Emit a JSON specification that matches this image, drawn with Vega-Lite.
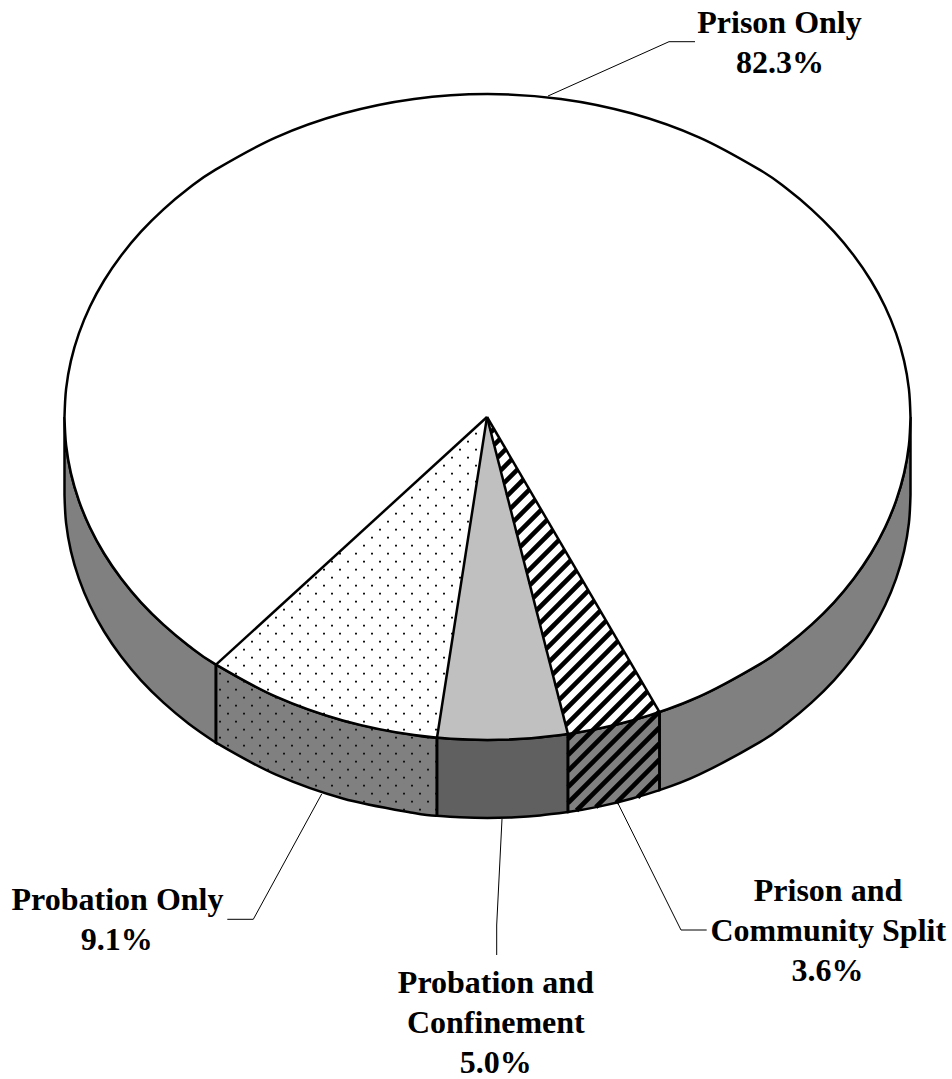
{"$schema":"https://vega.github.io/schema/vega-lite/v6.json","width":952,"height":1079,"padding":0,"autosize":"none","background":"white","view":{"stroke":null},
"datasets":{
"top":[{"x":64.5,"y":417,"y2":417},{"x":66.1,"y":388.8,"y2":445.2},{"x":70.9,"y":360.9,"y2":473.1},{"x":78.9,"y":333.4,"y2":500.6},{"x":90,"y":306.5,"y2":527.5},{"x":104.1,"y":280.5,"y2":553.5},{"x":121.2,"y":255.5,"y2":578.5},{"x":141,"y":231.7,"y2":602.3},{"x":163.5,"y":209.4,"y2":624.6},{"x":188.4,"y":188.6,"y2":645.4},{"x":215.6,"y":169.6,"y2":664.4},{"x":276,"y":137.3,"y2":696.7},{"x":342.8,"y":113.5,"y2":720.5},{"x":414.1,"y":98.9,"y2":735.1},{"x":487.5,"y":94,"y2":740},{"x":560.9,"y":98.9,"y2":735.1},{"x":632.2,"y":113.5,"y2":720.5},{"x":699,"y":137.3,"y2":696.7},{"x":759.4,"y":169.6,"y2":664.4},{"x":786.6,"y":188.6,"y2":645.4},{"x":811.5,"y":209.4,"y2":624.6},{"x":834,"y":231.7,"y2":602.3},{"x":853.8,"y":255.5,"y2":578.5},{"x":870.9,"y":280.5,"y2":553.5},{"x":885,"y":306.5,"y2":527.5},{"x":896.1,"y":333.4,"y2":500.6},{"x":904.1,"y":360.9,"y2":473.1},{"x":908.9,"y":388.8,"y2":445.2},{"x":910.5,"y":417,"y2":417}],
"side":[{"part":"Prison Only right","x":659.5,"y":712.1,"y2":790.1},{"part":"Prison Only right","x":699,"y":696.7,"y2":774.7},{"part":"Prison Only right","x":759.4,"y":664.4,"y2":742.4},{"part":"Prison Only right","x":786.6,"y":645.4,"y2":723.4},{"part":"Prison Only right","x":811.5,"y":624.6,"y2":702.6},{"part":"Prison Only right","x":834,"y":602.3,"y2":680.3},{"part":"Prison Only right","x":853.8,"y":578.5,"y2":656.5},{"part":"Prison Only right","x":870.9,"y":553.5,"y2":631.5},{"part":"Prison Only right","x":885,"y":527.5,"y2":605.5},{"part":"Prison Only right","x":896.1,"y":500.6,"y2":578.6},{"part":"Prison Only right","x":904.1,"y":473.1,"y2":551.1},{"part":"Prison Only right","x":908.9,"y":445.2,"y2":523.2},{"part":"Prison Only right","x":910.5,"y":417,"y2":495},
{"part":"Prison Only left","x":64.5,"y":417,"y2":495},{"part":"Prison Only left","x":66.1,"y":445.2,"y2":523.2},{"part":"Prison Only left","x":70.9,"y":473.1,"y2":551.1},{"part":"Prison Only left","x":78.9,"y":500.6,"y2":578.6},{"part":"Prison Only left","x":90,"y":527.5,"y2":605.5},{"part":"Prison Only left","x":104.1,"y":553.5,"y2":631.5},{"part":"Prison Only left","x":121.2,"y":578.5,"y2":656.5},{"part":"Prison Only left","x":141,"y":602.3,"y2":680.3},{"part":"Prison Only left","x":163.5,"y":624.6,"y2":702.6},{"part":"Prison Only left","x":188.4,"y":645.4,"y2":723.4},{"part":"Prison Only left","x":216,"y":664.7,"y2":742.7},
{"part":"Probation Only","x":216,"y":664.7,"y2":742.7},{"part":"Probation Only","x":276,"y":696.7,"y2":774.7},{"part":"Probation Only","x":342.8,"y":720.5,"y2":798.5},{"part":"Probation Only","x":414.1,"y":735.1,"y2":813.1},{"part":"Probation Only","x":437,"y":737.7,"y2":815.7},
{"part":"Probation and Confinement","x":437,"y":737.7,"y2":815.7},{"part":"Probation and Confinement","x":460,"y":739.3,"y2":817.3},{"part":"Probation and Confinement","x":487.5,"y":740,"y2":818},{"part":"Probation and Confinement","x":515,"y":739.3,"y2":817.3},{"part":"Probation and Confinement","x":540,"y":737.5,"y2":815.5},{"part":"Probation and Confinement","x":568,"y":734.1,"y2":812.1},
{"part":"Prison and Community Split","x":568,"y":734.1,"y2":812.1},{"part":"Prison and Community Split","x":600,"y":728.4,"y2":806.4},{"part":"Prison and Community Split","x":632.2,"y":720.5,"y2":798.5},{"part":"Prison and Community Split","x":659.5,"y":712.1,"y2":790.1}],
"wedge":[{"x":437,"y":737.7,"y2":737.7},{"x":460,"y":590.2,"y2":739.3},{"x":487,"y":417,"y2":740},{"x":515,"y":526.6,"y2":739.3},{"x":540,"y":624.5,"y2":737.5},{"x":568,"y":734.1,"y2":734.1}],
"dots":[{"y":433.7,"x":475,"x2":477},{"y":441.7,"x":467,"x2":469},{"y":449.7,"x":459,"x2":477},{"y":457.7,"x":451,"x2":469},{"y":465.7,"x":443,"x2":477},{"y":473.7,"x":435,"x2":469},{"y":481.7,"x":427,"x2":477},{"y":489.7,"x":419,"x2":469},{"y":497.7,"x":411,"x2":461},{"y":505.7,"x":403,"x2":469},{"y":513.7,"x":395,"x2":461},{"y":521.7,"x":387,"x2":469},{"y":529.7,"x":379,"x2":461},{"y":537.7,"x":371,"x2":469},{"y":545.7,"x":363,"x2":461},{"y":553.7,"x":339,"x2":453},{"y":561.7,"x":331,"x2":461},{"y":569.7,"x":323,"x2":453},{"y":577.7,"x":315,"x2":461},{"y":585.7,"x":307,"x2":453},{"y":593.7,"x":299,"x2":445},{"y":601.7,"x":291,"x2":453},{"y":609.7,"x":283,"x2":445},{"y":617.7,"x":275,"x2":453},{"y":625.7,"x":267,"x2":445},{"y":633.7,"x":259,"x2":453},{"y":641.7,"x":251,"x2":445},{"y":649.7,"x":243,"x2":437},{"y":657.7,"x":235,"x2":445},{"y":665.7,"x":227,"x2":437},{"y":673.7,"x":219,"x2":445},{"y":681.7,"x":227,"x2":437},{"y":689.7,"x":219,"x2":429},{"y":697.7,"x":227,"x2":437},{"y":705.7,"x":219,"x2":429},{"y":713.7,"x":227,"x2":437},{"y":721.7,"x":219,"x2":429},{"y":729.7,"x":227,"x2":437},{"y":737.7,"x":219,"x2":429},{"y":745.7,"x":227,"x2":437},{"y":753.7,"x":251,"x2":429},{"y":761.7,"x":259,"x2":437},{"y":769.7,"x":267,"x2":429},{"y":777.7,"x":291,"x2":437},{"y":785.7,"x":315,"x2":429},{"y":793.7,"x":339,"x2":437},{"y":801.7,"x":363,"x2":429},{"y":809.7,"x":403,"x2":437}],
"hatch":[{"x":490.9,"y":432.1,"x2":494,"y2":429},{"x":494.1,"y":444.9,"x2":499.9,"y2":439.1},{"x":497.4,"y":457.6,"x2":505.8,"y2":449.2},{"x":500.7,"y":470.4,"x2":511.7,"y2":459.3},{"x":503.9,"y":483.1,"x2":517.6,"y2":469.4},{"x":507.1,"y":495.8,"x2":523.5,"y2":479.5},{"x":510.4,"y":508.6,"x2":529.4,"y2":489.6},{"x":513.7,"y":521.3,"x2":535.3,"y2":499.7},{"x":516.9,"y":534.1,"x2":541.2,"y2":509.8},{"x":520.2,"y":546.8,"x2":547.1,"y2":519.9},{"x":523.4,"y":559.6,"x2":553,"y2":530},{"x":526.7,"y":572.3,"x2":558.9,"y2":540.1},{"x":529.9,"y":585.1,"x2":564.8,"y2":550.2},{"x":533.2,"y":597.8,"x2":570.7,"y2":560.3},{"x":536.4,"y":610.5,"x2":576.6,"y2":570.4},{"x":539.7,"y":623.3,"x2":582.5,"y2":580.5},{"x":543,"y":636,"x2":588.4,"y2":590.6},{"x":546.2,"y":648.8,"x2":594.3,"y2":600.7},{"x":549.5,"y":661.5,"x2":600.2,"y2":610.8},{"x":552.7,"y":674.3,"x2":606.1,"y2":620.9},{"x":556,"y":687,"x2":612,"y2":631},{"x":559.2,"y":699.8,"x2":617.9,"y2":641.1},{"x":562.5,"y":712.5,"x2":623.8,"y2":651.2},{"x":565.8,"y":725.2,"x2":629.8,"y2":661.2},{"x":568,"y":739,"x2":635.7,"y2":671.4},{"x":568,"y":755,"x2":641.5,"y2":681.5},{"x":568,"y":771,"x2":647.4,"y2":691.5},{"x":568,"y":787,"x2":653.4,"y2":701.7},{"x":568,"y":803,"x2":659.3,"y2":711.7},{"x":576.5,"y":810.5,"x2":659.5,"y2":727.5},{"x":595.8,"y":807.2,"x2":659.5,"y2":743.5},{"x":616.2,"y":802.8,"x2":659.5,"y2":759.5},{"x":637.6,"y":797.4,"x2":659.5,"y2":775.5}],
"edges":[{"x":487,"y":417,"x2":216,"y2":664.7},{"x":487,"y":417,"x2":437,"y2":737.7},{"x":487,"y":417,"x2":568,"y2":734.1},{"x":487,"y":417,"x2":659.5,"y2":712.1},{"x":216,"y":664.7,"x2":216,"y2":742.7},{"x":437,"y":737.7,"x2":437,"y2":815.7},{"x":568,"y":734.1,"x2":568,"y2":812.1},{"x":659.5,"y":712.1,"x2":659.5,"y2":790.1}],
"leaders":[{"x":548,"y":96,"x2":669,"y2":41.7},{"x":669,"y":41.7,"x2":695,"y2":41.7},{"x":321.7,"y":794,"x2":253.3,"y2":919.3},{"x":253.3,"y":919.3,"x2":227.3,"y2":919.3},{"x":502,"y":819,"x2":496.7,"y2":925},{"x":496.7,"y":925,"x2":496.7,"y2":955},{"x":618.3,"y":804,"x2":681,"y2":930},{"x":681,"y":930,"x2":706.7,"y2":930}],
"labels":[{"label":"Prison Only","x":779.5,"y":32.5},{"label":"82.3%","x":780,"y":72.7},{"label":"Probation Only","x":117.5,"y":910},{"label":"9.1%","x":116.7,"y":950},{"label":"Probation and","x":495.8,"y":992.7},{"label":"Confinement","x":495.8,"y":1032.7},{"label":"5.0%","x":495.8,"y":1073.3},{"label":"Prison and","x":828,"y":900.7},{"label":"Community Split","x":828.3,"y":940.7},{"label":"3.6%","x":827.5,"y":980.7}]
},
"encoding":{"x":{"field":"x","type":"quantitative","axis":null,"scale":{"domain":[0,952],"nice":false,"zero":false}},"y":{"field":"y","type":"quantitative","axis":null,"stack":null,"scale":{"domain":[1079,0],"nice":false,"zero":false}}},
"layer":[
{"data":{"name":"side"},"mark":{"type":"area","interpolate":"cardinal","stroke":"black","strokeWidth":2.5,"strokeJoin":"miter"},"encoding":{"y2":{"field":"y2"},"color":{"field":"part","type":"nominal","legend":null,"scale":{"domain":["Prison Only left","Prison Only right","Probation Only","Probation and Confinement","Prison and Community Split"],"range":["#808080","#808080","#808080","#606060","#808080"]}}}},
{"data":{"name":"top"},"mark":{"type":"area","interpolate":"cardinal","fill":"white"},"encoding":{"y2":{"field":"y2"}}},
{"data":{"name":"wedge"},"mark":{"type":"area","interpolate":"linear","fill":"#c0c0c0"},"encoding":{"y2":{"field":"y2"}}},
{"data":{"name":"dots"},"mark":{"type":"rule","stroke":"#111111","strokeWidth":1.7,"strokeDash":[2,14]},"encoding":{"x2":{"field":"x2"}}},
{"data":{"name":"hatch"},"mark":{"type":"rule","stroke":"black","strokeWidth":4.6},"encoding":{"x2":{"field":"x2"},"y2":{"field":"y2"}}},
{"data":{"name":"top"},"mark":{"type":"area","interpolate":"cardinal","fill":null,"fillOpacity":0,"stroke":"black","strokeWidth":2.5},"encoding":{"y2":{"field":"y2"}}},
{"data":{"name":"edges"},"mark":{"type":"rule","stroke":"black","strokeWidth":2.5},"encoding":{"x2":{"field":"x2"},"y2":{"field":"y2"}}},
{"data":{"name":"leaders"},"mark":{"type":"rule","stroke":"black","strokeWidth":1},"encoding":{"x2":{"field":"x2"},"y2":{"field":"y2"}}},
{"data":{"name":"labels"},"mark":{"type":"text","font":"Liberation Serif","fontWeight":"bold","fontSize":32,"align":"center","baseline":"alphabetic","fill":"black"},"encoding":{"text":{"field":"label","type":"nominal"}}}
]}
